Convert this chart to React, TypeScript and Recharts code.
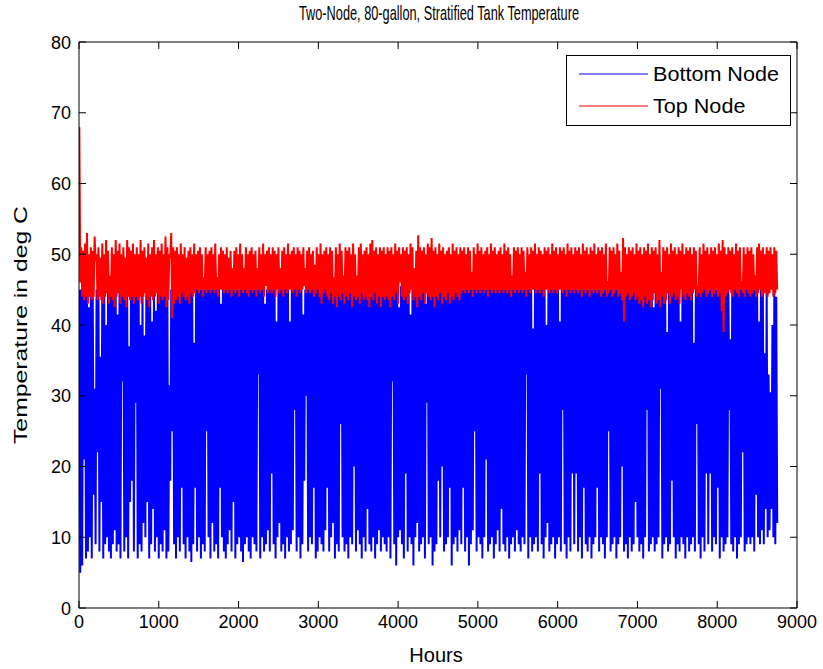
import React from 'react';
import { LineChart, Line, XAxis, YAxis, Legend } from 'recharts';

const FONT = '"Liberation Sans", Arial, Helvetica, sans-serif';

const title = 'Two-Node, 80-gallon, Stratified Tank Temperature';
const xLabel = 'Hours';
const yLabel = 'Temperature in deg C';
const seriesNames = ['Bottom Node', 'Top Node'];
const xTicks = [0, 1000, 2000, 3000, 4000, 5000, 6000, 7000, 8000, 9000];
const yTicks = [0, 10, 20, 30, 40, 50, 60, 70, 80];

// daily extremes (365 days)
const bottomHigh = [
  45, 45, 45.5, 45, 45, 42.5, 45, 45.5, 31, 45,
  45.5, 35.5, 45, 45, 40, 45, 45.5, 45, 45, 45.5,
  41.5, 45, 45.5, 45, 45, 45.5, 37, 45, 45, 45.5,
  45, 45, 40, 45.5, 38.5, 45, 45, 45.5, 40.5, 45,
  42, 45, 45.5, 45, 45, 45.5, 45, 31.5, 45, 45.5,
  45, 45, 45.5, 45, 45, 45.5, 45, 45, 45.5, 45,
  37.5, 45.5, 45, 45, 45.5, 45, 45, 45.5, 45, 45,
  45.5, 45, 45, 45, 43, 45.5, 45, 45, 45.5, 45,
  45, 45.5, 45, 45, 45.5, 45, 45, 45.5, 45, 45,
  45.5, 45, 45, 45.5, 45, 45, 45.5, 43, 45, 45.5,
  45, 45, 45.5, 40.5, 45, 45.5, 45, 45, 45.5, 45,
  40.5, 45, 45.5, 45, 45, 45.5, 45, 41.5, 45, 45.5,
  45, 45, 45.5, 45, 45, 45.5, 45, 45, 45.5, 45,
  45, 45.5, 45, 45, 45.5, 45, 45, 45.5, 45, 45,
  45.5, 45, 45, 45.5, 45, 45, 45.5, 45, 45, 45.5,
  45, 45, 45.5, 45, 45, 45.5, 45, 45, 45.5, 45,
  45, 45.5, 45, 45, 45.5, 45, 45, 42.5, 45.5, 45,
  45, 45.5, 45, 41.5, 45, 45.5, 45, 45, 45.5, 45,
  45, 43, 45.5, 45, 45, 45.5, 45, 45, 45.5, 45,
  45.5, 45, 45, 45.5, 45, 45, 45.5, 45, 45, 45.5,
  45, 45, 45.5, 45, 45, 45.5, 45, 45, 45.5, 45,
  45, 45.5, 45, 45, 45.5, 45, 45, 45.5, 45, 45,
  45.5, 45, 45, 45.5, 45, 45, 45.5, 45, 45, 45.5,
  45, 45.5, 45, 45, 45.5, 45, 45, 39.5, 45.5, 45,
  45, 45.5, 45, 45, 40, 45, 45.5, 45, 45, 45.5,
  45, 40.5, 45, 45.5, 45, 45, 45.5, 45, 45, 45.5,
  45, 45, 45.5, 45, 45, 45.5, 45, 45, 45.5, 45,
  45.5, 45, 45, 45.5, 45, 45, 45.5, 45, 45, 45.5,
  45, 45, 45.5, 45, 45, 45.5, 45, 45, 45.5, 45,
  45, 45.5, 45, 45, 45.5, 45, 45, 45.5, 45, 45,
  42.5, 45, 45.5, 45, 45, 45.5, 45, 39, 45, 45.5,
  45, 45, 45.5, 45, 40.5, 45, 45.5, 45, 45, 45.5,
  45, 37.5, 45, 45.5, 45, 45, 45.5, 45, 45, 45.5,
  45, 45.5, 45, 45, 45.5, 45, 45, 45.5, 45, 45,
  38, 45, 45.5, 45, 45, 45.5, 45, 45, 45.5, 45,
  45, 45.5, 45, 45, 45.5, 40.5, 45, 45, 36, 45,
  33, 30.5, 40, 45, 44,
];

const bottomLow = [
  5, 6, 21, 7, 8, 10, 7, 16, 9, 22,
  8, 15, 7, 9, 10, 8, 7, 9, 11, 8,
  9, 7, 32, 8, 10, 7, 15, 18, 8, 29,
  7, 9, 8, 12, 10, 15, 7, 9, 14, 8,
  10, 7, 9, 8, 11, 7, 8, 18, 25, 9,
  7, 10, 8, 17, 9, 7, 10, 8, 6.5, 9,
  17, 8, 10, 7, 9, 8, 25, 10, 7, 12,
  8, 9, 7, 17, 10, 8, 7, 9, 11, 8,
  15, 7, 9, 10, 8, 6.5, 9, 10, 8, 7,
  10, 9, 8, 33, 7, 10, 8, 9, 11, 8,
  19, 9, 7, 10, 12, 8, 9, 7, 10, 8,
  9, 11, 28, 8, 10, 7, 9, 18, 30, 8,
  10, 9, 17, 7, 8, 10, 9, 8, 11, 17,
  8, 10, 12, 7, 9, 8, 26, 10, 8, 9,
  7, 10, 9, 20, 8, 11, 9, 7, 10, 8,
  14, 9, 8, 10, 7, 9, 11, 8, 10, 9,
  8, 10, 7, 32, 9, 6, 10, 11, 9, 7,
  19, 8, 10, 9, 6, 10, 12, 8, 9, 10,
  7, 29, 9, 10, 6, 8, 9, 18, 10, 20,
  8, 9, 10, 17, 6, 9, 10, 8, 11, 9,
  17, 8, 10, 6, 9, 11, 25, 8, 10, 9,
  7, 10, 21, 8, 9, 10, 7, 9, 11, 8,
  14, 9, 8, 10, 7, 9, 10, 8, 11, 9,
  8, 10, 9, 33, 7, 10, 8, 9, 10, 8,
  19, 9, 7, 10, 12, 8, 9, 10, 7, 9,
  10, 8, 28, 9, 7, 10, 8, 19, 9, 19,
  8, 10, 7, 17, 9, 8, 10, 7, 9, 10,
  17, 8, 10, 9, 7, 10, 25, 8, 9, 10,
  7, 9, 10, 20, 8, 9, 7, 10, 8, 9,
  15, 10, 8, 9, 7, 10, 28, 8, 9, 10,
  8, 9, 10, 31, 7, 9, 10, 8, 9, 18,
  10, 7, 9, 8, 10, 9, 7, 10, 8, 9,
  10, 8, 26, 9, 7, 10, 8, 19, 9, 19,
  8, 10, 9, 17, 7, 10, 8, 9, 10, 28,
  9, 8, 10, 7, 9, 10, 22, 8, 9, 10,
  9, 10, 8, 16, 10, 9, 11, 9, 14, 10,
  11, 14, 10, 9, 12,
];

const topHigh = [
  68, 51, 50.5, 51.5, 53, 50, 51, 50.5, 52.5, 50,
  51, 49.5, 51.5, 50, 52, 50.5, 47, 51, 50, 52,
  50.5, 51.5, 50, 51, 49.5, 52, 51, 50.5, 51.5, 50,
  51, 50, 52, 50.5, 51, 49.5, 51.5, 50, 51, 52,
  50, 51, 50.5, 51.5, 50, 52.5, 51, 50, 53, 51,
  50.5, 51, 50, 51.5, 50, 51, 49.5, 50.5, 51, 50,
  51.5, 50, 50.5, 51, 50, 46.7, 51, 50, 50.5, 51,
  50, 51.5, 46.7, 50, 51, 50.5, 50, 51, 49.5, 50.5,
  48, 50.5, 51, 50, 51.5, 50, 48, 51, 50, 50.5,
  51, 50, 50.5, 48, 51, 50, 51.5, 50, 50.5, 51,
  50, 51, 50.5, 50, 51, 48, 50.5, 51, 50, 51.5,
  50, 50.5, 51, 50, 51, 50.5, 50, 51, 48, 50.5,
  51, 50, 50.5, 48.5, 51, 50, 51.5, 50, 50.5, 51,
  50, 51, 50.5, 46.7, 51, 50, 51.5, 50.5, 47, 51,
  50.5, 51, 50, 51.5, 50, 47, 51, 51.5, 50, 50.5,
  51, 50, 51.5, 52, 50.5, 51, 50, 51, 50.5, 51,
  50, 51, 50.5, 51, 50, 51.5, 50.5, 51, 50, 51,
  50.5, 51, 50, 51.5, 51, 48, 50.5, 52.7, 51, 50.5,
  51, 50, 51.5, 51, 52.3, 50.5, 51, 50, 51.5, 50.5,
  51, 50, 50.5, 51, 50, 51.5, 50.5, 51, 50, 51,
  50.5, 51, 50, 51, 50.5, 47.5, 51, 50, 51.5, 50.5,
  51, 50, 50.5, 51, 50, 51.5, 50.5, 51, 50, 50.5,
  51, 50, 51.5, 50.5, 51, 50, 47, 51, 50.5, 51,
  50, 51, 50.5, 47.5, 51, 50, 51, 50.5, 51.5, 50,
  51, 50.5, 50, 51, 50.5, 51, 50, 51.5, 50.5, 51,
  50, 51, 50.5, 51, 50, 51.5, 50.5, 51, 50, 51,
  50.5, 51, 50, 51.5, 50.5, 51, 50, 51, 50.5, 51.5,
  50, 51, 50.5, 51, 50, 51.5, 46.2, 51, 50.5, 51,
  50, 51.5, 50.5, 47.5, 52.3, 51, 50, 51, 50.5, 51,
  50, 51.5, 50.5, 51, 50, 51, 50.5, 51.5, 50, 51,
  50.5, 51, 50, 52, 47.5, 51, 50.5, 51, 50, 51.5,
  50.5, 51, 50, 51, 50.5, 51.5, 50, 51, 50.5, 51,
  50, 51, 50.5, 45.5, 51, 50, 51.5, 50.5, 51, 50,
  51, 50.5, 51, 50, 51.5, 50.5, 52, 51, 50, 51,
  50.5, 51, 50, 51.5, 50.5, 51, 46.2, 51, 50, 51,
  50.5, 51, 50, 47, 51, 51.5, 50.5, 51, 50, 51,
  50.5, 51, 50, 51, 50.5,
];

const topLow = [
  46, 44, 43.5, 44, 43, 44, 43.5, 44, 49, 43.5,
  44, 43.5, 43, 44, 44.5, 43, 44, 43.5, 42.5, 44,
  44.5, 43, 44, 43.5, 42.5, 44, 43.5, 44, 43, 44,
  43.5, 44, 43, 44, 44.5, 43.5, 42.5, 44, 43.5, 44,
  44.5, 43, 44, 43.5, 44, 42.5, 43.5, 49.5, 41, 43,
  43.5, 44, 43, 44.5, 44, 43.5, 44, 43, 44.5, 44,
  44.5, 45, 44.5, 45, 44, 45, 44.5, 45, 44.5, 45,
  44.5, 45, 44, 45, 45, 44.5, 45, 44.5, 45, 44,
  45, 44.5, 45, 44, 45, 44.5, 45, 44.5, 44, 45,
  44.5, 45, 44, 45, 44.5, 45, 44, 45.5, 44.5, 45,
  44.5, 45, 44, 45, 44.5, 45, 44, 45, 44.5, 45,
  45, 44.5, 45, 44, 45, 44.5, 45, 45.5, 44.5, 45,
  44.5, 45, 44, 44.5, 45, 44, 43, 44.5, 45, 44,
  43.5, 44.5, 43, 44, 42.5, 44, 43.5, 44.5, 43, 44,
  43.5, 44.5, 42.5, 44, 43.5, 44, 43, 44.5, 43.5, 44,
  43.5, 42.5, 44, 43.5, 44.5, 43, 44, 42.5, 44, 43.5,
  44, 43.5, 42.5, 44, 43.5, 44.5, 43, 46, 44, 43.5,
  44, 43, 44.5, 45, 43.5, 44, 42.5, 44, 43.5, 44.5,
  43, 44.5, 44, 43.5, 44, 42.5, 44, 43.5, 44.5, 43,
  44, 43.5, 44.5, 43, 44, 43.5, 44.5, 44, 43.5, 44.5,
  45, 44.5, 45, 44.5, 45, 44, 45, 44.5, 45, 44.5,
  45, 44.5, 45, 44, 45, 44.5, 45, 44.5, 45, 44.5,
  45, 44.5, 45, 44.5, 45, 44, 45, 44.5, 45, 44.5,
  45, 44.5, 45, 44, 45, 44.5, 45, 45, 44.5, 45,
  44.5, 45, 44, 45, 45, 44.5, 45, 44.5, 45, 44.5,
  45, 45, 44.5, 45, 44, 45, 44.5, 45, 44.5, 45,
  44.5, 45, 44, 45, 44.5, 45, 44, 45, 44.5, 45,
  44.5, 45, 44, 44.5, 45, 44, 44.5, 45, 44, 44.5,
  45, 44, 44.5, 43.5, 40.5, 44, 44.5, 43.5, 44, 44.5,
  43.5, 44, 43, 43.5, 42.5, 44, 43, 43.5, 42.5, 43.5,
  44.5, 43, 43.5, 42.5, 44, 43, 43.5, 44.5, 43, 44,
  44.5, 43.5, 44, 43, 45, 44, 43.5, 44.5, 44, 43.5,
  44.5, 45, 44, 44.5, 44, 44.5, 45, 44, 44.5, 45,
  44, 44.5, 45, 44, 44.5, 42, 39, 44, 44.5, 45,
  44.5, 44, 45, 44.5, 44, 45, 44.5, 44, 45, 44.5,
  44, 44.5, 45, 44, 44.5, 45, 44, 44.5, 44.5, 44,
  44.5, 45, 44, 44.5, 45,
];

// one high and one low sample per day, hour of day fixed
const HIGH_HOUR = 4;
const LOW_HOUR = 16;
const data: { h: number; bottom: number; top: number }[] = [];
for (let d = 0; d < bottomHigh.length; d++) {
  data.push({ h: d * 24 + HIGH_HOUR, bottom: bottomHigh[d], top: topHigh[d] });
  data.push({ h: d * 24 + LOW_HOUR, bottom: bottomLow[d], top: topLow[d] });
}

const BottomTick = (props: any) => {
  const { x, y, payload } = props;
  return (
    <text x={x} y={y} dy={14} textAnchor="middle" fontSize={18} fontFamily={FONT} fill="#000">
      {payload.value}
    </text>
  );
};

const LeftTick = (props: any) => {
  const { x, y, payload } = props;
  return (
    <text x={x} y={y} dy={6.5} textAnchor="end" fontSize={18} fontFamily={FONT} fill="#000">
      {payload.value}
    </text>
  );
};

const NoTick = () => <g />;

const LegendBox = (props: any) => {
  const items = props.payload || [];
  return (
    <svg width={225} height={71} style={{ display: 'block' }}>
      <rect x={0.5} y={0.5} width={224} height={70} fill="#fff" stroke="#000" strokeWidth={1} />
      {items.map((p: any, i: number) => (
        <g key={p.value}>
          <line x1={13} x2={82} y1={19 + i * 32} y2={19 + i * 32} stroke={p.color} strokeWidth={1.2} />
          <g transform={`translate(87 ${26 + i * 32}) scale(1.08 1)`}>
            <text x={0} y={0} fontSize={20} fontFamily={FONT} fill="#000">
              {p.value}
            </text>
          </g>
        </g>
      ))}
    </svg>
  );
};

export default function App() {
  return (
    <div style={{ position: 'absolute', left: 0, top: 0, width: 823, height: 669, background: '#fff' }}>
      <LineChart width={823} height={669} data={data} margin={{ top: 41, right: 25, bottom: 0, left: 0 }}>
        <XAxis
          xAxisId="b"
          dataKey="h"
          type="number"
          domain={[0, 9000]}
          ticks={xTicks}
          interval={0}
          height={61}
          tickSize={-7}
          tickMargin={13}
          axisLine={{ stroke: '#000' }}
          tickLine={{ stroke: '#000' }}
          tick={(p: any) => <BottomTick {...p} />}
          allowDataOverflow
        />
        <XAxis
          xAxisId="t"
          orientation="top"
          dataKey="h"
          type="number"
          domain={[0, 9000]}
          ticks={xTicks}
          interval={0}
          height={1}
          tickSize={-7}
          axisLine={{ stroke: '#000' }}
          tickLine={{ stroke: '#000' }}
          tick={NoTick}
          allowDataOverflow
        />
        <YAxis
          yAxisId="l"
          type="number"
          domain={[0, 80]}
          ticks={yTicks}
          interval={0}
          width={79}
          tickSize={-7}
          tickMargin={15}
          axisLine={{ stroke: '#000' }}
          tickLine={{ stroke: '#000' }}
          tick={(p: any) => <LeftTick {...p} />}
          allowDataOverflow
        />
        <YAxis
          yAxisId="r"
          orientation="right"
          type="number"
          domain={[0, 80]}
          ticks={yTicks}
          interval={0}
          width={1}
          tickSize={-7}
          axisLine={{ stroke: '#000' }}
          tickLine={{ stroke: '#000' }}
          tick={NoTick}
          allowDataOverflow
        />
        <Legend
          layout="vertical"
          align="center"
          verticalAlign="middle"
          content={(p: any) => <LegendBox {...p} />}
          wrapperStyle={{ left: 566, top: 55, width: 225, height: 71 }}
        />
        <Line
          xAxisId="b"
          yAxisId="l"
          type="linear"
          dataKey="bottom"
          name={seriesNames[0]}
          stroke="#0000ff"
          strokeWidth={2}
          dot={false}
          activeDot={false}
          isAnimationActive={false}
        />
        <Line
          xAxisId="b"
          yAxisId="l"
          type="linear"
          dataKey="top"
          name={seriesNames[1]}
          stroke="#ff0000"
          strokeWidth={2}
          dot={false}
          activeDot={false}
          isAnimationActive={false}
        />
      </LineChart>
      <svg
        width={823}
        height={669}
        style={{ position: 'absolute', left: 0, top: 0, pointerEvents: 'none' }}
      >
        <text x={439} y={20} textAnchor="middle" fontSize={21} fontFamily={FONT} fill="#000" textLength={280} lengthAdjust="spacingAndGlyphs">
          {title}
        </text>
        <text x={436} y={662} textAnchor="middle" fontSize={20} fontFamily={FONT} fill="#000">
          {xLabel}
        </text>
        <text x={27} y={325} textAnchor="middle" fontSize={19} fontFamily={FONT} fill="#000" transform="rotate(-90 27 325)" textLength={238} lengthAdjust="spacingAndGlyphs">
          {yLabel}
        </text>
      </svg>
    </div>
  );
}
